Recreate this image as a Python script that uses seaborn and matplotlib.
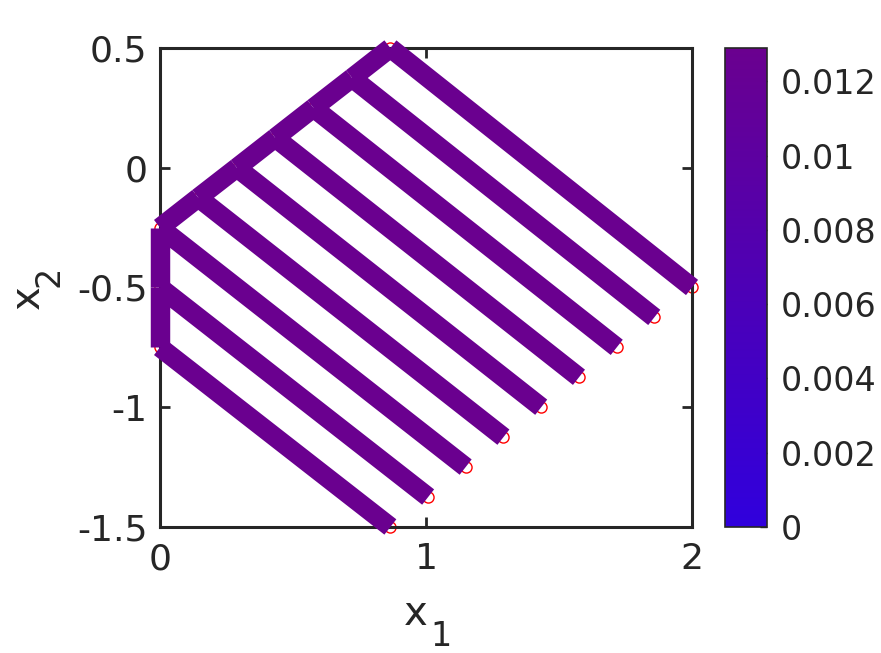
import numpy as np
import pandas as pd
import matplotlib
matplotlib.use('Agg')
import matplotlib.pyplot as plt
import seaborn as sns
from matplotlib.colors import LinearSegmentedColormap, Normalize
from matplotlib.cm import ScalarMappable

# node coordinates (left edge, spine, free ends)
node_x = [0.0, 0.0, 0.0,
          0.144, 0.289, 0.433, 0.577, 0.722, 0.866,
          0.866, 1.008, 1.149, 1.291, 1.433, 1.575, 1.717, 1.858, 2.0]
node_y = [-0.75, -0.5, -0.25,
          -0.125, 0.0, 0.125, 0.25, 0.375, 0.5,
          -1.5, -1.375, -1.25, -1.125, -1.0, -0.875, -0.75, -0.625, -0.5]

# element connectivity (start node, end node) and element values
elem_start = [0, 1, 2, 3, 4, 5, 6, 7,
              0, 1, 2, 3, 4, 5, 6, 7, 8]
elem_end = [1, 2, 3, 4, 5, 6, 7, 8,
            9, 10, 11, 12, 13, 14, 15, 16, 17]
elem_value = [0.0128, 0.0128, 0.0129, 0.0129, 0.0129, 0.0129, 0.0129, 0.0129,
              0.0128, 0.0128, 0.0129, 0.0129, 0.0129, 0.0129, 0.0129, 0.0129, 0.0129]

cbar_ticks = [0, 0.002, 0.004, 0.006, 0.008, 0.01, 0.012]
cbar_labels = ['0', '0.002', '0.004', '0.006', '0.008', '0.01', '0.012']
vmax = 0.0129

rows = []
for i, (a, b) in enumerate(zip(elem_start, elem_end)):
    rows.append({'x': node_x[a], 'y': node_y[a], 'elem': i, 'value': elem_value[i]})
    rows.append({'x': node_x[b], 'y': node_y[b], 'elem': i, 'value': elem_value[i]})
df = pd.DataFrame(rows)

sns.set_style('white')
plt.rcParams['font.family'] = ['DejaVu Sans']
txt = '#262626'

cmap = LinearSegmentedColormap.from_list('bp', ['#3000dd', '#6a008f'])
norm = Normalize(0, vmax)

fig = plt.figure(figsize=(8.81, 6.53), dpi=100)
ax = fig.add_axes([0.1816, 0.193, 0.6039, 0.7335])
cax = fig.add_axes([0.823, 0.193, 0.0477, 0.7335])

ax.plot(node_x, node_y, 'o', mfc='none', mec='red', ms=8, mew=1, zorder=1, clip_on=False)
sns.lineplot(data=df, x='x', y='y', units='elem', estimator=None, sort=False,
             hue='value', palette=cmap, hue_norm=norm, legend=False,
             linewidth=14, solid_capstyle='butt', ax=ax, zorder=2, clip_on=False)

ax.set_xlim(0, 2)
ax.set_ylim(-1.5, 0.5)
ax.set_xticks([0, 1, 2])
ax.set_xticklabels(['0', '1', '2'])
ax.set_yticks([-1.5, -1, -0.5, 0, 0.5])
ax.set_yticklabels(['-1.5', '-1', '-0.5', '0', '0.5'])
ax.tick_params(direction='in', length=7, width=2, colors=txt, labelsize=26,
               top=True, right=True, bottom=True, left=True)
ax.tick_params(axis='x', pad=11)
ax.tick_params(axis='y', pad=9)
for s in ax.spines.values():
    s.set_visible(True)
    s.set_linewidth(2.2)
    s.set_color(txt)
    s.set_zorder(1.5)
ax.set_xlabel('')
ax.set_ylabel('')

# axis labels drawn MATLAB-style with a large subscript
fig.text(416 / 881, 1 - 625 / 653, 'x', fontsize=29, color=txt, ha='center', va='baseline')
fig.text(430 / 881, 1 - 646 / 653, '1', fontsize=24, color=txt, ha='left', va='baseline')
fig.text(28 / 881, 1 - 297 / 653, 'x', fontsize=29, color=txt, rotation=90,
         ha='center', va='center')
fig.text(49 / 881, 1 - 276 / 653, '2', fontsize=24, color=txt, rotation=90,
         ha='center', va='center')

sm = ScalarMappable(norm=norm, cmap=cmap)
cb = fig.colorbar(sm, cax=cax)
cb.set_ticks(cbar_ticks)
cb.set_ticklabels(cbar_labels)
cb.outline.set_linewidth(1.2)
cb.outline.set_edgecolor(txt)
cax.tick_params(direction='in', length=5, width=1, colors=txt, labelsize=24, pad=10)

fig.savefig('out.png', dpi=100)
